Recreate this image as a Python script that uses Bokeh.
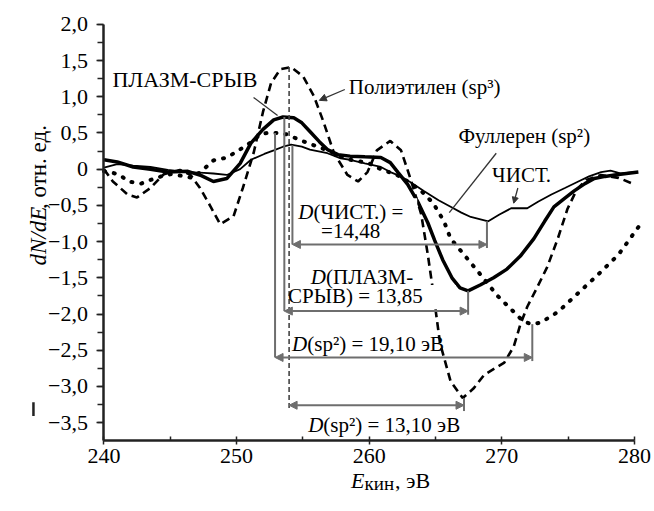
from bokeh.plotting import figure
from bokeh.models import Range1d, Label, Arrow, NormalHead, SingleIntervalTicker, CustomJSTickFormatter
from bokeh.embed import file_html
from bokeh.resources import INLINE

# --- data ---
clean_x = [240, 241.0, 242.2, 243.5, 244.81, 246.33, 247.54, 248.25, 249.26, 250.27, 251.08, 252.09, 252.8,
           253.5, 254.11, 254.92, 255.53, 256.85, 257.85, 258.56, 259.67, 260.88, 261.59, 262.4, 263.21,
           264.12, 265.23, 266.14, 266.95, 267.66, 268.98, 269.79, 270.7, 271.92, 272.73, 273.74, 274.76,
           275.77, 276.58, 277.49, 278.2, 279.01, 280.0]
clean_y = [0.02, 0.07, 0.05, 0.03, -0.01, -0.04, -0.05, -0.06, -0.08, 0.0, 0.13, 0.21, 0.26, 0.31, 0.34,
           0.31, 0.27, 0.22, 0.15, 0.13, 0.08, 0.03, -0.04, -0.1, -0.19, -0.3, -0.43, -0.52, -0.6,
           -0.66, -0.72, -0.63, -0.54, -0.54, -0.45, -0.35, -0.26, -0.17, -0.1, -0.04, -0.02, -0.06, -0.04]

plasma_x = [240, 241.0, 242.2, 243.5, 244.81, 246.33, 247.34, 248.25, 249.26, 250.27, 251.08, 251.99, 252.8,
            253.5, 254.31, 254.92, 255.53, 256.24, 256.85, 257.65, 258.56, 259.67, 260.88, 261.59, 262.2,
            262.9, 263.72, 264.42, 264.93, 265.54, 266.24, 266.85, 267.46, 268.37, 269.38, 270.39, 271.4,
            272.42, 273.23, 273.93, 274.76, 275.46, 276.27, 276.98, 277.79, 278.5, 279.4, 280.3]
plasma_y = [0.13, 0.1, 0.03, 0.0, -0.04, -0.03, -0.09, -0.17, -0.13, 0.08, 0.36, 0.55, 0.68, 0.72,
            0.71, 0.64, 0.52, 0.38, 0.27, 0.2, 0.18, 0.17, 0.16, 0.09, -0.05, -0.21, -0.47, -0.74,
            -0.98, -1.25, -1.5, -1.64, -1.68, -1.6, -1.5, -1.38, -1.2, -0.96, -0.72, -0.52, -0.4, -0.3,
            -0.2, -0.13, -0.1, -0.08, -0.06, -0.04]

poly_x = [240, 240.67, 241.78, 242.49, 243.5, 244.51, 245.72, 246.53, 247.24, 248.05, 248.76, 249.77, 250.47,
          251.28, 251.99, 252.6, 253.3, 254.11, 255.02, 255.83, 256.54, 257.35, 258.36, 259.16, 259.87,
          260.58, 261.59, 262.4, 263.11, 263.92, 264.42, 264.83, 265.34, 266.14, 267.05, 267.86, 268.67,
          270.19, 270.9, 271.41, 271.92, 272.62, 273.43, 274.24, 274.95, 275.66, 276.37, 277.49, 278.8, 280.0]
poly_y = [0.0, -0.17, -0.35, -0.39, -0.26, -0.07, -0.01, -0.08, -0.26, -0.52, -0.76, -0.65, -0.26, 0.22,
          0.79, 1.19, 1.38, 1.41, 1.28, 1.01, 0.66, 0.22, -0.08, -0.17, -0.04, 0.26, 0.39, 0.26,
          -0.13, -0.62, -1.18, -1.7, -2.4, -2.93, -3.16, -3.03, -2.84, -2.67, -2.45, -2.14, -1.9,
          -1.65, -1.35, -0.95, -0.55, -0.28, -0.15, -0.08, -0.12, -0.21]

full_x = [240, 240.47, 241.17, 241.88, 242.79, 243.5, 244.31, 245.02, 245.82, 246.63, 247.34, 248.25, 249.26,
          250.07, 251.08, 251.79, 252.3, 253.09, 253.8, 254.81, 255.83, 256.85, 257.85, 258.56, 259.87,
          260.88, 262.09, 262.9, 263.92, 264.83, 265.64, 266.14, 267.15, 268.37, 269.68, 270.9, 271.61,
          272.22, 272.93, 274.24, 275.77, 277.29, 278.8, 280.3]
full_y = [-0.03, -0.04, -0.08, -0.17, -0.2, -0.15, -0.1, -0.07, -0.09, -0.12, -0.03, 0.12, 0.16, 0.25,
          0.37, 0.48, 0.5, 0.5, 0.48, 0.4, 0.33, 0.26, 0.18, 0.13, 0.09, 0.0, -0.08, -0.17,
          -0.3, -0.47, -0.72, -0.96, -1.18, -1.45, -1.75, -1.97, -2.1, -2.14, -2.12, -1.97, -1.71,
          -1.45, -1.18, -0.8]

# peak/minimum positions for the D measurements
d_full = dict(x0=252.9, y0=0.5, x1=272.3, y1=-2.14, ya=-2.6)
d_plasma = dict(x0=253.6, y0=0.72, x1=267.46, y1=-1.68, ya=-1.96)
d_clean = dict(x0=254.21, y0=0.33, x1=268.88, y1=-0.72, ya=-1.04)
d_poly = dict(x0=253.96, y0=1.41, x1=267.15, y1=-3.16, ya=-3.26)

X_LO, X_HI = 240, 280
Y_LO, Y_HI = -3.74, 2.0

SERIF = "'Liberation Serif', serif"
FS = "21px"

# the frame fills the whole canvas; the axes are pinned at x=240 and y=-3.74
p = figure(frame_width=654, frame_height=511,
           x_range=Range1d(232.195, 281.516), y_range=Range1d(-4.7272, 2.3291),
           output_backend="svg", toolbar_location=None,
           min_border_left=0, min_border_right=0, min_border_top=0, min_border_bottom=0)
p.grid.visible = False
p.outline_line_color = None
p.background_fill_color = "white"

p.xaxis.ticker = SingleIntervalTicker(interval=10, num_minor_ticks=2)
p.yaxis.ticker = SingleIntervalTicker(interval=0.5, num_minor_ticks=2)
p.xaxis.fixed_location = Y_LO
p.yaxis.fixed_location = X_LO
p.xaxis.bounds = (X_LO, X_HI)
p.yaxis.bounds = (Y_LO, Y_HI)
p.yaxis.formatter = CustomJSTickFormatter(
    code="if (Math.abs(tick) < 1e-9) {return '0';} return tick.toFixed(1).replace('.', ',').replace('-', '\u2212');")
for ax in (p.xaxis[0], p.yaxis[0]):
    ax.axis_line_width = 2.5
    ax.axis_line_color = "#222222"
    ax.major_tick_line_color = "#222222"
    ax.minor_tick_line_color = "#222222"
    ax.major_tick_line_width = 1.5
    ax.minor_tick_line_width = 1.5
    ax.major_label_text_font = SERIF
    ax.major_label_text_font_size = "22px"
    ax.major_label_text_color = "black"
p.yaxis.major_tick_in = 0
p.yaxis.major_tick_out = 7
p.yaxis.minor_tick_in = 0
p.yaxis.minor_tick_out = 6
p.yaxis.major_label_standoff = 9
p.xaxis.major_tick_in = 0
p.xaxis.major_tick_out = 4
p.xaxis.minor_tick_in = 4
p.xaxis.minor_tick_out = 0
p.xaxis.major_label_standoff = 5

# curves
p.line(full_x, full_y, line_color="black", line_width=4, line_dash="1 9", line_cap="round")
p.line(poly_x, poly_y, line_color="black", line_width=2.6, line_dash="8 5")
p.line(clean_x, clean_y, line_color="black", line_width=1.8)
p.line(plasma_x, plasma_y, line_color="black", line_width=3.5)

GRAY = "#6e6e6e"
for d in (d_full, d_plasma, d_clean):
    p.line([d["x0"], d["x0"]], [d["y0"], d["ya"]], line_color=GRAY, line_width=2)
    p.line([d["x1"], d["x1"]], [d["y1"], d["ya"] - 0.05], line_color=GRAY, line_width=2)
p.line([d_poly["x0"], d_poly["x0"]], [d_poly["y0"], d_poly["ya"] - 0.04], line_color="#444444",
       line_width=1.6, line_dash="5 3")
p.line([d_poly["x1"], d_poly["x1"]], [d_poly["y1"], d_poly["ya"] - 0.08], line_color=GRAY, line_width=2)

# white label boxes
p.quad(left=[254.41, 254.41, 254.41, 254.11], right=[263.62, 263.52, 266.54, 265.12],
       bottom=[-0.99, -1.6, -1.9, -2.58], top=[-0.40, -1.3, -1.6, -2.28],
       fill_color="white", line_color=None)

for d in (d_full, d_plasma, d_clean, d_poly):
    p.add_layout(Arrow(x_start=d["x0"], y_start=d["ya"], x_end=d["x1"], y_end=d["ya"],
                       line_color=GRAY, line_width=2,
                       start=NormalHead(size=8, fill_color=GRAY, line_color=GRAY),
                       end=NormalHead(size=8, fill_color=GRAY, line_color=GRAY)))

# pointers
p.line([251.28, 253.09], [0.99, 0.74], line_color="#333333", line_width=1.3)
p.add_layout(Arrow(x_start=258.16, y_start=1.1, x_end=256.24, y_end=0.95, line_color="#333333",
                   line_width=1.3, end=NormalHead(size=7, fill_color="#333333", line_color="#333333")))
p.line([269.58, 266.04], [0.22, -0.6], line_color="#333333", line_width=1.3)
p.add_layout(Arrow(x_start=271.21, y_start=-0.26, x_end=270.9, y_end=-0.47, line_color="#333333",
                   line_width=1.3, end=NormalHead(size=6, fill_color="#333333", line_color="#333333")))

# small stray mark at the left edge of the original figure
p.line([234.68, 234.68], [-3.22, -3.41], line_color="#222222", line_width=2.5)


def txt(x, y, s, align="left", style="normal", size=FS, baseline="middle", angle=0, font=SERIF, bg=None):
    lab = Label(x=x, y=y, text=s, text_font=font, text_font_size=size, text_font_style=style,
                text_align=align, text_baseline=baseline, angle=angle, text_color="black")
    if bg:
        lab.background_fill_color = bg
    p.add_layout(lab)


txt(240.64, 1.24, "ПЛАЗМ-СРЫВ", size="22px", bg="white")
txt(258.46, 1.14, "Полиэтилен (sp³)")
txt(266.73, 0.46, "Фуллерен (sp²)")
txt(269.27, -0.08, "ЧИСТ.", bg="white")

txt(255.8, -0.59, "D", align="right", style="italic")
txt(255.8, -0.59, "(ЧИСТ.) =")
txt(258.6, -0.86, "=14,48", align="center")

txt(256.74, -1.49, "D", align="right", style="italic")
txt(256.74, -1.49, "(ПЛАЗМ-")
txt(258.96, -1.75, "СРЫВ) = 13,85", align="center")

txt(255.33, -2.42, "D", align="right", style="italic")
txt(255.33, -2.42, "(sp²) = 19,10 эВ")

txt(256.54, -3.53, "D", align="right", style="italic")
txt(256.54, -3.53, "(sp²) = 13,10 эВ")

# axis titles
txt(235.06, -1.33, "dN/dE", style="italic", size="23px", baseline="alphabetic", angle=1.5708)
txt(235.06, -0.55, ", отн. ед.", size="23px", baseline="alphabetic", angle=1.5708)
txt(259.65, -4.306, "E", align="right", style="italic", size="22px", baseline="alphabetic")
txt(259.65, -4.34, "кин", size="19px", baseline="alphabetic")
txt(261.95, -4.306, ", эВ", size="22px", baseline="alphabetic")

open("out.html", "w").write(file_html(p, INLINE))
